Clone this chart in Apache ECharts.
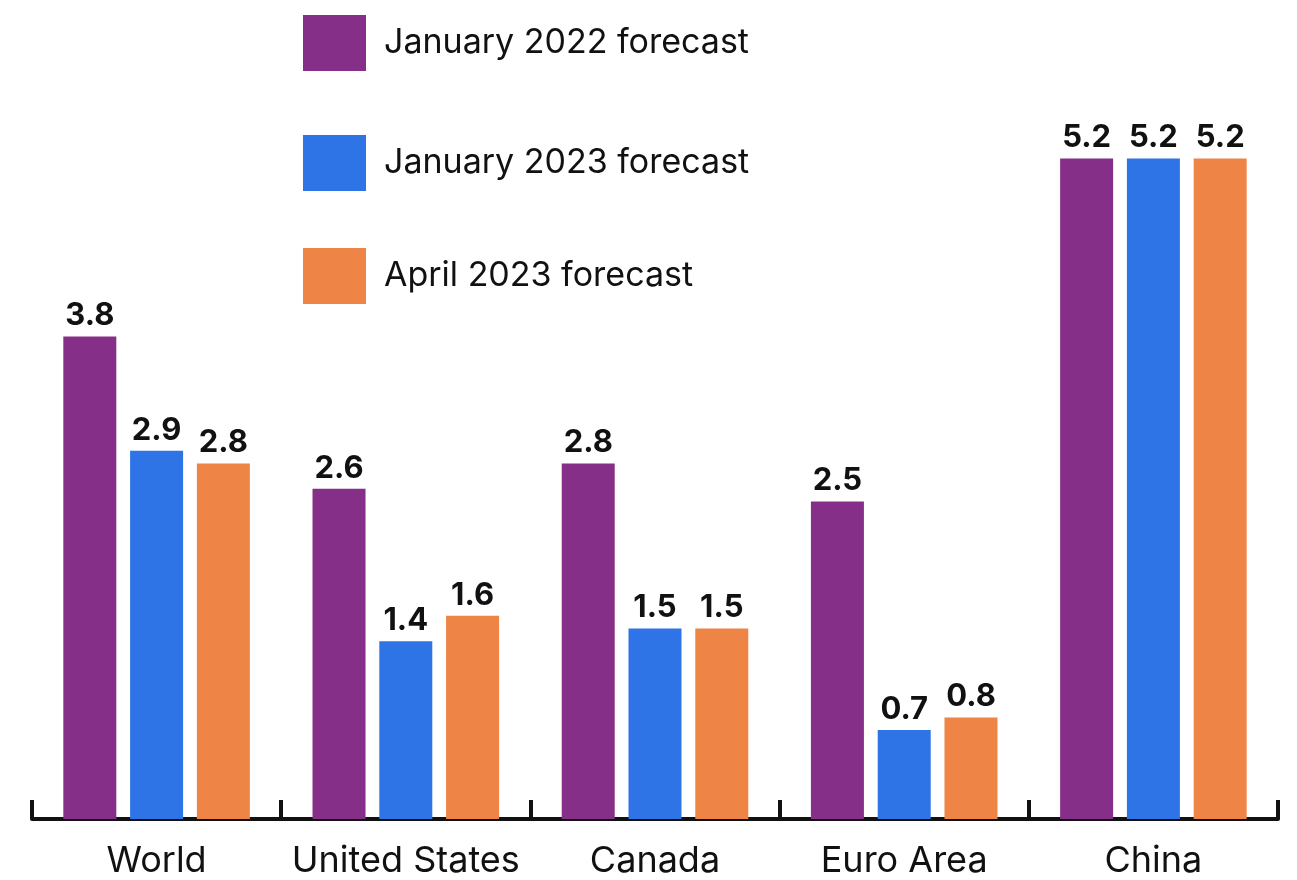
<!DOCTYPE html>
<html>
<head>
<meta charset="utf-8">
<script src="https://cdn.jsdelivr.net/npm/echarts@6/dist/echarts.min.js"></script>
<style>
  html, body { margin: 0; padding: 0; background: #ffffff; }
  #chart { width: 1297px; height: 880px; }
</style>
</head>
<body>
<div id="chart"></div>
<script>
// GDP growth forecasts (%) by economy
const categories = ['World', 'United States', 'Canada', 'Euro Area', 'China'];
const seriesNames = ['January 2022 forecast', 'January 2023 forecast', 'April 2023 forecast'];
const jan2022 = [3.8, 2.6, 2.8, 2.5, 5.2];
const jan2023 = [2.9, 1.4, 1.5, 0.7, 5.2];
const apr2023 = [2.8, 1.6, 1.5, 0.8, 5.2];

const colors = ['#852F88', '#2E74E7', '#EE8446'];
const FONT = 'Inter, "Noto Sans", sans-serif';

const chart = echarts.init(document.getElementById('chart'), null, { renderer: 'canvas' });

const legendTops = [15, 135, 248];
const legends = seriesNames.map((name, i) => ({
  data: [name],
  left: 303,
  top: legendTops[i],
  padding: 0,
  orient: 'vertical',
  icon: 'rect',
  itemWidth: 63,
  itemHeight: 56,
  selectedMode: false,
  textStyle: {
    fontFamily: FONT,
    fontSize: 34,
    color: '#111111',
    padding: [0, 0, 0, 13]
  }
}));

const values = [jan2022, jan2023, apr2023];

chart.setOption({
  animation: false,
  color: colors,
  legend: legends,
  grid: { left: 32, right: 19, top: 57, bottom: 61, containLabel: false },
  xAxis: {
    type: 'category',
    data: categories,
    axisLine: { show: true, lineStyle: { color: '#111111', width: 4 } },
    axisTick: { show: true, inside: true, length: 19, lineStyle: { color: '#111111', width: 4 } },
    axisLabel: { interval: 0, fontFamily: FONT, fontSize: 36, color: '#111111', margin: 24 }
  },
  yAxis: {
    type: 'value',
    min: 0,
    max: 6,
    show: false,
    splitLine: { show: false }
  },
  series: seriesNames.map((name, i) => ({
    name: name,
    type: 'bar',
    data: values[i],
    barWidth: 53,
    barGap: '26%',
    itemStyle: { color: colors[i] },
    label: {
      show: true,
      position: 'top',
      distance: 5,
      fontFamily: FONT,
      fontSize: 31,
      fontWeight: 'bold',
      color: '#111111',
      formatter: p => p.value.toFixed(1)
    }
  }))
});
</script>
</body>
</html>
